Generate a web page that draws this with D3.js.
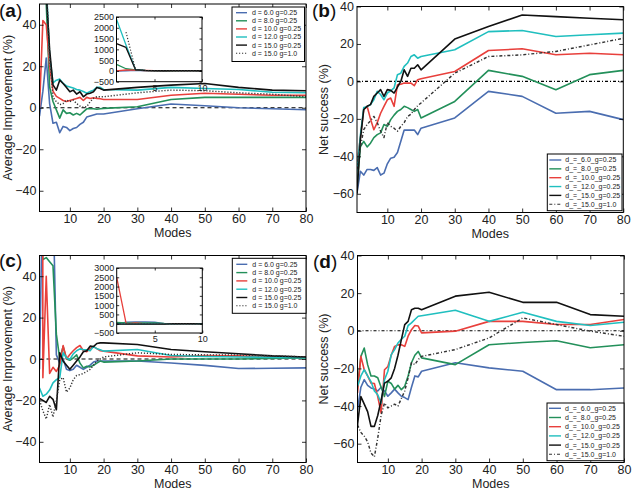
<!DOCTYPE html>
<html><head><meta charset="utf-8">
<script src="https://cdn.jsdelivr.net/npm/d3@7"></script>
<style>
body{margin:0;background:#fff}
svg{display:block}
text{font-family:"Liberation Sans",Arial,sans-serif}
</style>
</head><body>
<svg id="chart" width="632" height="489"></svg>
<script>
// ---------------- data ----------------
const modes = [1,2,3,4,5,6,7,8,9,10,11,12,13,14,15,16,17,18,19,20,30,40,50,60,70,80];
const labelsAC = ["d = 6.0 g=0.25","d = 8.0 g=0.25","d = 10.0 g=0.25","d = 12.0 g=0.25","d = 15.0 g=0.25","d = 15.0 g=1.0"];
const labelsBD = ["d_=_6.0_g=0.25","d_=_8.0_g=0.25","d_=_10.0_g=0.25","d_=_12.0_g=0.25","d_=_15.0_g=0.25","d_=_15.0_g=1.0"];
const xTicks = [10,20,30,40,50,60,70,80];
const yTicksAC = [-40,-20,0,20,40];
const yTicksBD = [-60,-40,-20,0,20,40];
const insetTicksA = [-500,0,500,1000,1500,2000,2500];
const insetTicksC = [-500,0,500,1000,1500,2000,2500,3000];
const insetXTicks = [5,10];

// panel (a): average improvement
const a_d6  = [-4, 8, 24, 2, -7.5, -7, -12, -9, -9.5, -11, -10, -9.5, -8, -7, -4.5, -4, -3.5, -3, -3, -3, -0.5, 1.8, 1, 0, -0.5, -1];
const a_d8  = [300, 100, 50, 10, 3, -1, -5, -1, -2.7, -2.4, -3.5, -2.7, -3.5, -2, -0.5, -0.5, -0.5, -0.7, -0.5, -0.3, 0.5, 4, 5, 5, 5, 5];
const a_d10 = [0, 42, 40, 20, 8, 5.5, 4.5, 3.5, 3, 3.5, 4, 4.5, 5, 3.5, 5, 4.5, 4.8, 4.5, 4.3, 4, 4, 6, 7, 6.5, 6, 6];
const a_d12 = [2400, 1200, 60, 25, 12, 13.3, 13.8, 11.7, 10.5, 10, 9.5, 8.8, 8.5, 7.8, 7, 7.8, 8.5, 9.8, 9.8, 8.8, 8.5, 9.8, 9.3, 8.8, 7.5, 7.2];
const a_d15 = [1270, 1090, 55, 28, 11, 8.5, 13.3, 11.7, 9.8, 7.7, 8.5, 6.6, 7.7, 5.3, 6.6, 7, 7.7, 9.8, 9.3, 8.5, 9.8, 10.9, 11.7, 9.8, 8.5, 8.2];
const a_g1  = [null, 1800, 60, 25, 5, 2.9, 1.5, 2, 3.7, 3, 3.7, 2, 0.8, 0.2, 0.5, 2.9, 4.5, 5.3, 5.3, 5.3, 7.2, 8.5, 8.2, 7.2, 6.5, 5.3];

// panel (b): net success
const b_d6  = [-59.5, -48, -50, -47, -47, -47.5, -46, -50, -49, -44, -41, -40.5, -38, -32, -26, -26, -26, -26, -28.4, -25, -19.5, -5.3, -8, -17, -16, -20.4];
const b_d8  = [-56, -35, -32, -35, -33, -30, -28.4, -27.5, -23, -24, -20.4, -18, -16, -15, -13.3, -14, -15, -16, -15, -19.5, -10.7, 5.9, 2.7, -4.4, 3.6, 5.9];
const b_d10 = [-45, -30, -15, -13.3, -20, -25.8, -22, -17, -13.3, -9.8, -8.9, -13.3, -1.8, -1.5, -0.9, -0.9, -0.9, -2.3, 0.9, 1.4, 5.3, 16.5, 17.4, 14.2, 15, 14.2];
const b_d12 = [-48, -29, -14, -13.5, -12.4, -9.8, -5.3, -7, -9.8, -6.2, -5, -3.5, 3.6, 4.4, 8, 9.8, 13.3, 14.2, 12.4, 13.3, 16.9, 26.6, 27.2, 24, 24.9, 25.8];
const b_d15 = [-60, -31, -15, -13.3, -12.4, -8, -6.2, -4.4, -8, -4.4, -4.8, -6.2, -3, 0, 6.2, 2.7, 7, 7, 8.9, 6.2, 22.6, 29.3, 35.5, 34.6, 33.7, 32.9];
const b_g1  = [-47, -35, -25.8, -23, -21, -18.7, -22, -26.6, -30, -22, -24, -25, -26.6, -24, -22, -18.7, -17.5, -15, -13, -11.5, 4.4, 13.3, 14.2, 16, 19.5, 23];

// panel (c): average improvement
const c_d6  = [-5, 90, 95, 100, 80, 2, -2, 0, -5, -5.6, -5, -3, -4, -5, -4, -3, -1.5, -1, -1, -1, -1, -1.9, -3.1, -4.6, -4.5, -4.3];
const c_d8  = [70, 48, 49, 47, 45, 12, 0, 6, 0, -0.6, 0.5, 2, -2, -4.3, -3.5, -3.8, -3, -2, -1, -1.5, -1, 0, 0, 0, 0.3, 0.5];
const c_d10 = [2500, -9, 40, -7, -4, -6, -3, 6.5, 0, 2.2, 4, 5.5, 6.5, 4, 3.5, 5, 6, 5, 4, 3.8, 1.5, 1, 1.7, 1.5, 1, 1];
const c_d12 = [-14, -18, -17, -15, -11.5, -10, -9, 3, 0.5, -0.2, 2.5, 4, 4.9, 4.5, 4.5, 4, 6, 5, 4.5, 3.8, 4.6, 1.7, 1.2, 1, 0.8, 0.6];
const c_d15 = [-19, -20, -21, -18, -19.5, -24.5, 3, -1, -3, -5, -3, -1, 1, 3.5, 4, 6.2, 6, 7.5, 7.8, 7.8, 7, 4.6, 3.5, 2.5, 1.5, 1];
const c_g1  = [-20, -25, -29, -22, -28, -20, -10, -9, -16, -14, -10, -8, -7.5, -7, -6, -5, -3, -1, 0, 1, 3, 2.2, 2, 2, 1.5, 1];

// panel (d): net success
const d_d6  = [-42, -30, -26, -29, -30.4, -31, -32, -30, -32, -34.8, -33, -31, -33, -34.8, -35.5, -36.6, -30, -24, -24.5, -21.5, -17, -19.7, -21.5, -31.3, -31.3, -30.4];
const d_d8  = [-29.5, -13.6, -9.2, -18, -24, -24, -25, -30, -34.9, -26.8, -28, -31, -29, -31.3, -29.5, -24, -17, -13, -11, -14.4, -18, -7.4, -6.2, -5.3, -9, -7.4];
const d_d10 = [-33, -13.6, -20.7, -24, -27.8, -28, -35, -43.7, -20.7, -19, -13, -8.3, -7.5, -7.4, -8.3, -2.9, 0.6, 2.8, 2.5, -1.1, -0.2, 5, 5, 3.3, 3.3, 6];
const d_d12 = [-29.5, -24, -20.7, -24, -27, -32, -34, -38.4, -26, -21.5, -12.7, -10, -6.5, -4.5, -2.9, 2.8, 4.2, 6, 7.7, 8, 10.9, 5, 9.8, 5, 2.8, 4.5];
const d_d15 = [-50, -35, -39, -43, -50.8, -50.8, -45, -37, -27.8, -26.8, -25, -20, -13, -4.7, 3.3, 5, 11.2, 12, 12, 11.2, 18.4, 20.5, 15.1, 15.1, 8.6, 7.7];
const d_g1  = [-50, -54, -56, -59, -65, -67, -57, -45, -38.4, -41, -40, -39, -40, -36, -32, -25, -17, -18, -15.3, -13.6, -10, -3.8, 6.8, 3.3, -0.2, -2.9];

const colors = ["#4a6db0","#23905a","#e8403c","#20bfbf","#111111","#333333"];

// ---------------- drawing ----------------
const svg = d3.select("#chart");
const defs = svg.append("defs");
const fmt = d3.format("");

function frameAxes(g, x, y, p, xt, yt, fs, tick, pad, showX=true) {
  const ax = (gen, tr, lbl) => {
    const a = g.append("g").attr("transform", tr).call(gen);
    a.select(".domain").remove();
    a.selectAll("line").attr("stroke","#000").attr("stroke-width",0.8);
    a.selectAll("text").attr("font-size",fs).attr("fill","#222");
    if (!lbl) a.selectAll("text").remove();
    return a;
  };
  ax(d3.axisBottom(x).tickValues(xt).tickSize(-tick).tickPadding(pad).tickFormat(fmt), `translate(0,${p.b})`, showX);
  ax(d3.axisTop(x).tickValues(xt).tickSize(-tick), `translate(0,${p.t})`, false);
  ax(d3.axisLeft(y).tickValues(yt).tickSize(-tick).tickPadding(pad).tickFormat(fmt), `translate(${p.l},0)`, true);
  ax(d3.axisRight(y).tickValues(yt).tickSize(-tick), `translate(${p.r},0)`, false);
  g.append("rect").attr("x",p.l).attr("y",p.t).attr("width",p.r-p.l).attr("height",p.b-p.t)
    .attr("fill","none").attr("stroke","#000").attr("stroke-width",1);
}

function drawLines(g, x, y, series, clipId, gDash, lw) {
  const pg = g.append("g").attr("clip-path",`url(#${clipId})`);
  const line = d3.line().defined(d => d[1] !== null).x(d => x(d[0])).y(d => y(d[1]));
  series.forEach((vals, i) => {
    const pts = modes.map((m, j) => [m, vals[j]]);
    pg.append("path").datum(pts).attr("d", line).attr("fill","none")
      .attr("stroke", colors[i]).attr("stroke-width", i === 5 ? lw*0.9 : lw)
      .attr("stroke-linejoin","round")
      .attr("stroke-dasharray", i === 5 ? gDash : null);
  });
  return pg;
}

function panel(p) {
  const g = svg.append("g");
  const x = d3.scaleLinear().domain([1,80]).range([p.l, p.r]);
  const y = d3.scaleLinear().domain(p.yDom).range([p.b, p.t]);
  const cid = "clip_" + p.id;
  defs.append("clipPath").attr("id", cid).append("rect")
    .attr("x",p.l).attr("y",p.t).attr("width",p.r-p.l).attr("height",p.b-p.t);
  g.append("rect").attr("x",p.l).attr("y",p.t).attr("width",p.r-p.l).attr("height",p.b-p.t).attr("fill","#fff");
  // zero reference line
  g.append("line").attr("clip-path",`url(#${cid})`)
    .attr("x1",p.l).attr("x2",p.r).attr("y1",y(0)).attr("y2",y(0))
    .attr("stroke","#000").attr("stroke-width",1.2).attr("stroke-dasharray",p.zeroDash);
  drawLines(g, x, y, p.series, cid, p.gDash, 1.6);
  frameAxes(g, x, y, p, xTicks, p.yTicks, 12.5, 4, 3);

  // axis titles
  g.append("text").attr("x",(p.l+p.r)/2).attr("y",p.b+25).attr("text-anchor","middle")
    .attr("font-size",12.5).attr("fill","#222").text("Modes");
  g.append("text").attr("transform",`translate(${p.yLabX},${(p.t+p.b)/2}) rotate(-90)`)
    .attr("text-anchor","middle").attr("font-size",12.5).attr("fill","#222").text(p.yLabel);

  // panel letter
  const lt = g.append("text").attr("x",p.letX).attr("y",p.letY).attr("font-size",19).attr("fill","#111");
  lt.append("tspan").text("(");
  lt.append("tspan").attr("font-weight","bold").text(p.letter);
  lt.append("tspan").text(")");

  // inset
  if (p.inset) {
    const q = p.inset;
    const ig = g.append("g");
    const ix = d3.scaleLinear().domain([1,10]).range([q.l, q.r]);
    const iy = d3.scaleLinear().domain(q.yDom).range([q.b, q.t]);
    const icid = "clipi_" + p.id;
    defs.append("clipPath").attr("id", icid).append("rect")
      .attr("x",q.l).attr("y",q.t).attr("width",q.r-q.l).attr("height",q.b-q.t);
    ig.append("rect").attr("x",q.l).attr("y",q.t).attr("width",q.r-q.l).attr("height",q.b-q.t).attr("fill","#fff");
    drawLines(ig, ix, iy, p.series, icid, p.gDash, 1.3);
    frameAxes(ig, ix, iy, q, insetXTicks, q.yTicks, 9, 2.5, 2.5);
  }

  // legend
  const L = p.legend;
  const lg = g.append("g");
  lg.append("rect").attr("x",L.x).attr("y",L.y).attr("width",L.w).attr("height",L.h)
    .attr("fill","#fff").attr("stroke","#000").attr("stroke-width",1);
  p.labels.forEach((lab, i) => {
    const yy = L.y + L.first + i*L.step;
    lg.append("line").attr("x1",L.x+L.sx).attr("x2",L.x+L.sx+L.sl).attr("y1",yy).attr("y2",yy)
      .attr("stroke",colors[i]).attr("stroke-width",i===5?1.1:1.4)
      .attr("stroke-dasharray", i===5 ? p.gDash : null);
    lg.append("text").attr("x",L.x+L.tx).attr("y",yy+2.4).attr("font-size",7).attr("fill","#222").text(lab);
  });
}

const dotted = "1.2,1.8";
const dashdot = "3,2,1,2";

panel({id:"a", l:39.5, r:306, t:4, b:211.5, yDom:[-50,50], yTicks:yTicksAC,
  series:[a_d6,a_d8,a_d10,a_d12,a_d15,a_g1], zeroDash:"4,3", gDash:dotted,
  yLabel:"Average Improvement (%)", yLabX:12, letter:"a", letX:-1, letY:17,
  labels:labelsAC,
  legend:{x:232,y:7,w:72.5,h:54.5,first:5.7,step:8.1,sx:4,sl:11,tx:20},
  inset:{l:116.5,r:202,t:17,b:81.7,yDom:[-500,2500],yTicks:insetTicksA}});

panel({id:"b", l:357, r:623.3, t:6.5, b:212.5, yDom:[-70,40], yTicks:yTicksBD,
  series:[b_d6,b_d8,b_d10,b_d12,b_d15,b_g1], zeroDash:dashdot, gDash:dashdot,
  yLabel:"Net success (%)", yLabX:328, letter:"b", letX:312, letY:17,
  labels:labelsBD,
  legend:{x:547.3,y:154,w:74.7,h:56.7,first:6,step:8.85,sx:2,sl:12,tx:18}});

panel({id:"c", l:39.5, r:306, t:255.5, b:462.5, yDom:[-50,50], yTicks:yTicksAC,
  series:[c_d6,c_d8,c_d10,c_d12,c_d15,c_g1], zeroDash:"4,3", gDash:dotted,
  yLabel:"Average Improvement (%)", yLabX:12, letter:"c", letX:-1, letY:267,
  labels:labelsAC,
  legend:{x:232.3,y:258.3,w:73.7,h:55,first:6,step:8.3,sx:4,sl:11,tx:20},
  inset:{l:116.7,r:202.3,t:268,b:333,yDom:[-500,3000],yTicks:insetTicksC}});

panel({id:"d", l:357.5, r:624, t:255.5, b:462.5, yDom:[-70,40], yTicks:yTicksBD,
  series:[d_d6,d_d8,d_d10,d_d12,d_d15,d_g1], zeroDash:dashdot, gDash:dashdot,
  yLabel:"Net success (%)", yLabX:328, letter:"d", letX:313, letY:268,
  labels:labelsBD,
  legend:{x:547,y:403,w:77,h:57.7,first:5.3,step:9.2,sx:2,sl:12,tx:18}});
</script>
</body></html>
